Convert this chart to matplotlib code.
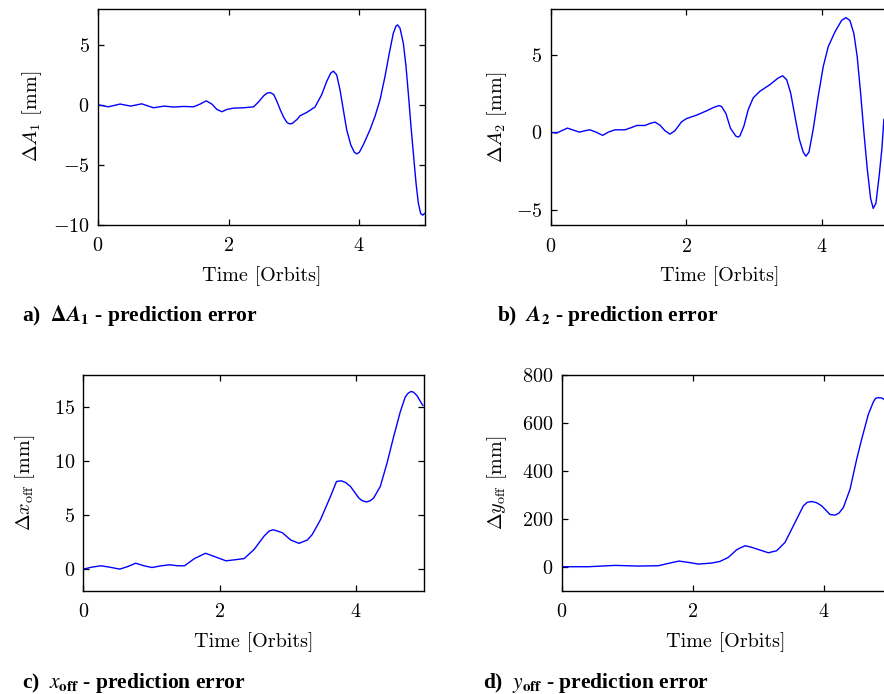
import matplotlib
matplotlib.use("Agg")
import matplotlib.pyplot as plt

# values
t_a = [0, 0.159, 0.338, 0.501, 0.670, 0.849, 1.013, 1.156, 1.309, 1.463, 1.565, 1.657,
       1.744, 1.821, 1.898, 1.974, 2.077, 2.230, 2.384, 2.460, 2.537, 2.588, 2.639, 2.691,
       2.742, 2.793, 2.844, 2.895, 2.936, 2.977, 3.049, 3.093, 3.196, 3.323, 3.425, 3.502,
       3.563, 3.604, 3.655, 3.706, 3.757, 3.808, 3.870, 3.925, 3.962, 4.002, 4.064, 4.166,
       4.242, 4.319, 4.395, 4.461, 4.522, 4.564, 4.589, 4.625, 4.676, 4.717, 4.752, 4.793,
       4.829, 4.870, 4.905, 4.941, 4.972, 5.0]
dA1 = [0, -0.17, 0.06, -0.11, 0.08, -0.25, -0.11, -0.19, -0.14, -0.17, 0.06, 0.33,
       0.06, -0.39, -0.58, -0.39, -0.28, -0.25, -0.17, 0.25, 0.75, 0.97, 1.02, 0.86,
       0.25, -0.44, -1.05, -1.49, -1.60, -1.55, -1.22, -0.92, -0.64, -0.19, 0.84, 1.94,
       2.64, 2.81, 2.50, 1.25, -0.42, -2.08, -3.33, -3.97, -4.10, -3.97, -3.33, -2.08,
       -0.97, 0.42, 2.36, 4.31, 5.97, 6.58, 6.67, 6.39, 5.14, 3.19, 0.97, -1.81,
       -4.03, -6.53, -8.19, -9.08, -9.22, -9.08]

t_b = [0, 0.088, 0.162, 0.246, 0.334, 0.423, 0.506, 0.580, 0.668, 0.767, 0.850, 0.948,
       1.096, 1.194, 1.268, 1.391, 1.464, 1.538, 1.612, 1.686, 1.759, 1.833, 1.931, 2.005,
       2.152, 2.300, 2.398, 2.482, 2.521, 2.585, 2.653, 2.732, 2.767, 2.792, 2.851, 2.915,
       2.988, 3.087, 3.235, 3.357, 3.422, 3.481, 3.540, 3.603, 3.667, 3.726, 3.766, 3.810,
       3.873, 3.947, 4.021, 4.094, 4.193, 4.292, 4.355, 4.414, 4.473, 4.522, 4.572, 4.621,
       4.670, 4.720, 4.758, 4.798, 4.847, 4.886, 4.916]
dA2 = [0, -0.04, 0.11, 0.28, 0.15, 0.02, 0.11, 0.17, 0.02, -0.19, 0.02, 0.17,
       0.17, 0.32, 0.45, 0.45, 0.58, 0.67, 0.47, 0.11, -0.11, 0.11, 0.69, 0.90,
       1.12, 1.40, 1.61, 1.74, 1.68, 1.23, 0.26, -0.24, -0.30, -0.22, 0.42, 1.49,
       2.24, 2.67, 3.10, 3.53, 3.67, 3.42, 2.56, 1.06, -0.43, -1.28, -1.54, -1.28,
       0.21, 2.35, 4.27, 5.55, 6.51, 7.26, 7.44, 7.26, 6.41, 4.91, 2.56, 0,
       -2.35, -4.28, -4.92, -4.60, -2.78, -1.07, 0.85]

t_c = [0, 0.122, 0.258, 0.389, 0.535, 0.657, 0.769, 0.891, 1.007, 1.144, 1.265, 1.387,
       1.484, 1.630, 1.791, 1.922, 2.092, 2.214, 2.360, 2.506, 2.652, 2.725, 2.783, 2.847,
       2.920, 3.041, 3.163, 3.285, 3.358, 3.479, 3.625, 3.713, 3.781, 3.844, 3.917, 4.039,
       4.088, 4.151, 4.209, 4.258, 4.355, 4.453, 4.550, 4.647, 4.720, 4.759, 4.803, 4.842,
       4.891, 4.978]
dx_off = [0, 0.18, 0.31, 0.18, 0, 0.25, 0.55, 0.31, 0.15, 0.31, 0.40, 0.31,
          0.31, 0.98, 1.47, 1.17, 0.77, 0.86, 0.98, 1.84, 3.07, 3.53, 3.65, 3.53,
          3.37, 2.70, 2.39, 2.70, 3.22, 4.60, 6.75, 8.13, 8.19, 8.04, 7.67, 6.60,
          6.35, 6.23, 6.35, 6.60, 7.67, 9.82, 12.27, 14.57, 15.95, 16.29, 16.47, 16.41,
          16.10, 15.18]

t_d = [0, 0.407, 0.813, 1.169, 1.474, 1.626, 1.789, 1.931, 2.084, 2.287, 2.414, 2.541,
       2.668, 2.719, 2.795, 2.872, 2.948, 3.151, 3.278, 3.405, 3.558, 3.685, 3.746, 3.812,
       3.888, 3.964, 4.091, 4.168, 4.229, 4.295, 4.397, 4.498, 4.574, 4.676, 4.752, 4.788,
       4.828, 4.879, 4.930]
dy_off = [0, 0, 5.6, 2.8, 4.2, 13.9, 23.6, 18.1, 11.1, 15.3, 22.2, 38.9,
          70.8, 78.0, 87.5, 83.0, 76.4, 58.3, 66.7, 101.4, 184.7, 254.2, 269.0, 272.2,
          267.0, 254.2, 218.0, 215.3, 224.0, 247.2, 323.6, 448.6, 531.9, 636.1, 687.5, 703.0,
          705.6, 704.0, 695.8]

x_ticks = [0, 2, 4]

plt.rcParams["font.family"] = "cmr10"
plt.rcParams["mathtext.fontset"] = "cm"
plt.rcParams["axes.formatter.use_mathtext"] = True
plt.rcParams["font.size"] = 14.5

W, H = 884, 694
fig = plt.figure(figsize=(W / 100, H / 100), dpi=100)


def make_axes(left, right, top, bottom):
    # pixel box -> figure fractions
    return fig.add_axes([left / W, 1 - bottom / H, (right - left) / W, (bottom - top) / H])


def style(ax, ylim, yticks, ylabel, lpad):
    ax.set_xlim(0, 5)
    ax.set_ylim(*ylim)
    ax.set_xticks(x_ticks)
    ax.set_yticks(yticks)
    ax.tick_params(direction="in", length=4, width=0.9, top=True, right=True)
    ax.tick_params(axis="x", pad=9)
    ax.tick_params(axis="y", pad=6)
    for s in ax.spines.values():
        s.set_linewidth(1.0)
    ax.set_xlabel("Time [Orbits]", labelpad=8)
    ax.set_ylabel(ylabel, labelpad=lpad)


ax1 = make_axes(98, 424.5, 9, 224.5)
ax1.plot(t_a, dA1, color="blue", lw=1.0)
style(ax1, (-10, 8), [-10, -5, 0, 5], r"$\Delta A_1$ [mm]", 6.5)

ax2 = make_axes(550.7, 889.6, 9, 225)
ax2.plot(t_b, dA2, color="blue", lw=1.0)
style(ax2, (-6, 8), [-5, 0, 5], r"$\Delta A_2$ [mm]", 5)

ax3 = make_axes(83.3, 424.3, 375, 590.7)
ax3.plot(t_c, dx_off, color="blue", lw=1.0)
style(ax3, (-2, 18), [0, 5, 10, 15], r"$\Delta x_{\mathrm{off}}$ [mm]", 12)

ax4 = make_axes(561.7, 889.6, 375, 590.7)
ax4.plot(t_d, dy_off, color="blue", lw=1.0)
style(ax4, (-100, 800), [0, 200, 400, 600, 800], r"$\Delta y_{\mathrm{off}}$ [mm]", 9.5)

# captions under each panel
cap = dict(fontfamily="Liberation Serif", fontweight="bold", fontsize=15.5,
           math_fontfamily="stix", va="baseline")
fig.text(22 / W, 1 - 321 / H, r"a)  $\mathbf{\Delta}\mathbfit{A}_{\mathbf{1}}$ - prediction error", **cap)
fig.text(497 / W, 1 - 321 / H, r"b)  $\mathbfit{A}_{\mathbf{2}}$ - prediction error", **cap)
fig.text(22 / W, 1 - 688 / H, r"c)  $x_{\mathbf{off}}$ - prediction error", **cap)
fig.text(483 / W, 1 - 688 / H, r"d)  $y_{\mathbf{off}}$ - prediction error", **cap)

fig.savefig("out.png", dpi=100)
